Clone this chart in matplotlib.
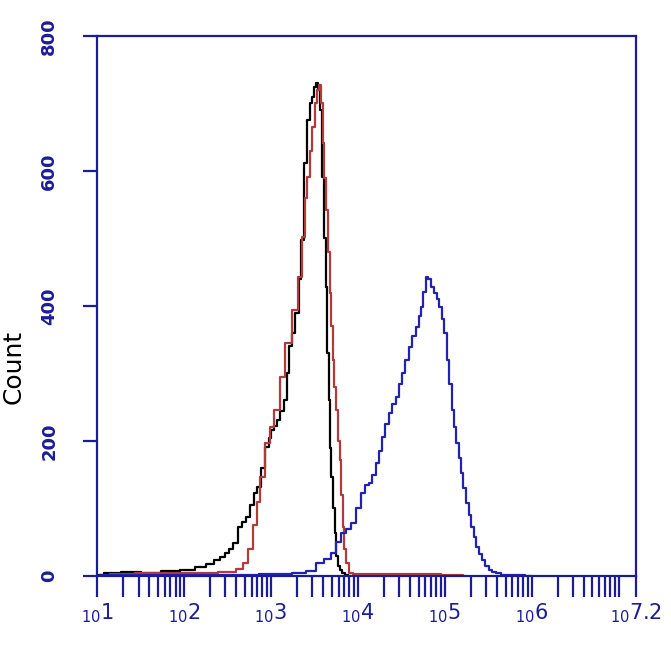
import numpy as np
import matplotlib.pyplot as plt
from matplotlib.ticker import NullFormatter

# histogram channels given as log10 of intensity, with counts
black_exp = [1.00, 1.15, 1.38, 1.61, 1.84, 2.04, 2.19, 2.30, 2.38, 2.44, 2.50, 2.54, 2.59,
             2.65, 2.69, 2.74, 2.78, 2.82, 2.87, 2.91, 2.96, 2.99, 3.01, 3.05, 3.08, 3.13,
             3.16, 3.20, 3.22, 3.26, 3.30, 3.34, 3.36, 3.39, 3.43, 3.46, 3.49, 3.51, 3.53,
             3.55, 3.58, 3.60, 3.62, 3.64, 3.66, 3.67, 3.69, 3.70, 3.73, 3.74, 3.76, 3.78,
             3.81, 3.83, 3.87, 3.91]
black_cnt = [2, 4, 6, 5, 7, 9, 13, 18, 24, 28, 34, 40, 49,
             73, 80, 87, 105, 123, 132, 160, 191, 205, 216, 222, 231, 245,
             261, 300, 340, 360, 390, 440, 498, 612, 675, 700, 710, 725, 730,
             720, 690, 591, 500, 428, 330, 261, 190, 147, 100, 64, 30, 15,
             9, 5, 2, 0]

red_exp = [1.15, 1.61, 2.19, 2.53, 2.65, 2.70, 2.76, 2.82, 2.85, 2.90, 2.96, 3.01, 3.07,
           3.13, 3.20, 3.28, 3.34, 3.37, 3.41, 3.43, 3.46, 3.49, 3.52, 3.54, 3.57, 3.59,
           3.60, 3.62, 3.65, 3.67, 3.68, 3.70, 3.72, 3.74, 3.76, 3.78, 3.80, 3.82, 3.83,
           3.85, 3.88, 3.91, 3.97, 4.49, 5.18, 5.23]
red_cnt = [3, 4, 5, 6, 10, 19, 40, 75, 110, 147, 197, 220, 246,
           295, 345, 394, 443, 502, 560, 591, 630, 665, 700, 720, 727, 700,
           641, 590, 542, 480, 419, 370, 320, 280, 246, 200, 172, 120, 73,
           40, 19, 4, 3, 3, 2, 0]

blue_exp = [1.03, 2.19, 3.11, 3.34, 3.45, 3.57, 3.65, 3.72, 3.77, 3.83, 3.89, 3.95, 4.00,
            4.06, 4.11, 4.14, 4.19, 4.22, 4.26, 4.29, 4.34, 4.37, 4.42, 4.45, 4.49, 4.52,
            4.57, 4.60, 4.65, 4.68, 4.72, 4.74, 4.76, 4.80, 4.82, 4.86, 4.89, 4.92, 4.95,
            4.98, 5.00, 5.04, 5.06, 5.10, 5.12, 5.14, 5.18, 5.20, 5.23, 5.26, 5.29, 5.32,
            5.35, 5.37, 5.41, 5.44, 5.49, 5.52, 5.57, 5.60, 5.69, 5.87, 5.98]
blue_cnt = [1, 2, 3, 5, 8, 19, 25, 34, 50, 64, 70, 78, 100,
            123, 135, 138, 150, 167, 185, 206, 225, 241, 255, 265, 285, 301,
            320, 339, 355, 369, 385, 398, 420, 443, 440, 428, 419, 410, 398,
            380, 360, 320, 285, 246, 220, 197, 175, 153, 130, 108, 90, 73,
            58, 43, 33, 24, 15, 9, 6, 4, 2, 1, 0]

y_ticks = [0, 200, 400, 600, 800]
x_major_exp = [1, 2, 3, 4, 5, 6, 7.2]
x_major_labels = ['1', '2', '3', '4', '5', '6', '7.2']

navy = '#1c1c96'

fig = plt.figure(figsize=(6.71, 6.71), dpi=100)
ax = fig.add_axes([0.1446, 0.1416, 0.8033, 0.8048])

ax.step(10 ** np.array(black_exp), black_cnt, where='mid', color='black', lw=1.6)
ax.step(10 ** np.array(red_exp), red_cnt, where='mid', color='#b23a3a', lw=1.6)
ax.step(10 ** np.array(blue_exp), blue_cnt, where='mid', color='#2222b0', lw=1.6)

ax.set_xscale('log')
ax.set_xlim(10 ** 1, 10 ** 7.2)
ax.set_ylim(0, 800)

ax.set_xticks([10 ** e for e in x_major_exp])
ax.set_xticklabels([r'$\mathregular{_{10}' + s + '}$' for s in x_major_labels])
minor = [m * 10 ** d for d in range(1, 7) for m in range(2, 11) if m * 10 ** d < 10 ** 7.2]
ax.set_xticks(minor, minor=True)
ax.xaxis.set_minor_formatter(NullFormatter())
ax.tick_params(axis='x', which='both', direction='out', length=15, width=1.6,
               color=navy, labelcolor=navy, labelsize=15, pad=3)

ax.set_yticks(y_ticks)
ax.set_yticklabels([str(v) for v in y_ticks], rotation=90, va='center',
                   fontweight='bold', fontsize=13)
ax.tick_params(axis='y', direction='out', length=10, width=1.6,
               color=navy, labelcolor=navy, pad=18)

for sp in ax.spines.values():
    sp.set_color(navy)
    sp.set_linewidth(1.6)

# y label placed by hand so it sits at the far left like the reference
fig.text(14 / 671, 1 - 367 / 671, 'Count', rotation=90, ha='center', va='center',
         fontsize=18, color='black')

fig.savefig('out.png', dpi=100, facecolor='white')
